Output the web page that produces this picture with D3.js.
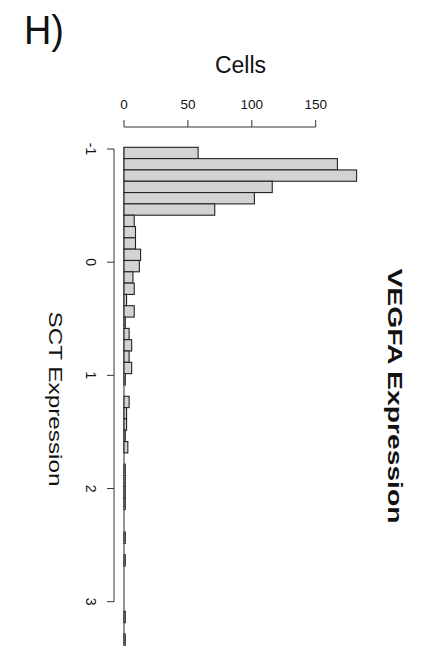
<!DOCTYPE html>
<html>
<head>
<meta charset="utf-8">
<script src="https://cdn.jsdelivr.net/npm/d3@7"></script>
<style>
  body { margin: 0; background: #fff; }
  text { font-family: "Liberation Sans", Arial, sans-serif; fill: #111; }
</style>
</head>
<body>
<svg width="435" height="647"></svg>
<script>
// histogram of SCT expression, 0.1 wide bins
var binStart = -1.015;
var binWidth = 0.1;
var counts = [58, 167, 182, 116, 102, 71, 8, 9, 9, 13, 12, 7, 8, 2, 8, 1, 4, 6, 4, 6,
  1, 0, 4, 2, 2, 1, 3, 0, 1, 1, 1, 1, 0, 0, 1, 0, 1, 0, 0, 0, 0, 1, 0, 1];
var cellTicks = [0, 50, 100, 150];
var exprTicks = [-1, 0, 1, 2, 3];

var svg = d3.select("svg");

var x = d3.scaleLinear().domain([0, 150]).range([124, 315.7]);
var y = d3.scaleLinear().domain([-1, 3]).range([149, 601.7]);

var bins = counts.map(function(c, i) {
  return { x0: binStart + i * binWidth, x1: binStart + (i + 1) * binWidth, n: c };
});

// empty bins still leave a line on the baseline
svg.append("line")
  .attr("x1", x(0)).attr("x2", x(0))
  .attr("y1", y(bins[0].x0)).attr("y2", y(bins[bins.length - 1].x1))
  .attr("stroke", "#2a2a2a");

svg.append("g")
  .selectAll("rect")
  .data(bins)
  .enter().append("rect")
  .attr("x", x(0))
  .attr("y", function(d) { return y(d.x0); })
  .attr("width", function(d) { return x(d.n) - x(0); })
  .attr("height", function(d) { return y(d.x1) - y(d.x0); })
  .attr("fill", "#d3d3d3")
  .attr("stroke", "#222")
  .attr("stroke-width", 1.1);

// top axis (Cells)
var topAxis = svg.append("g").attr("transform", "translate(0,127)");
topAxis.append("line")
  .attr("x1", x(0)).attr("x2", x(150))
  .attr("stroke", "#333");
topAxis.selectAll(".tk").data(cellTicks).enter().append("line")
  .attr("x1", function(d) { return x(d); }).attr("x2", function(d) { return x(d); })
  .attr("y1", 0).attr("y2", -7)
  .attr("stroke", "#333");
topAxis.selectAll(".lb").data(cellTicks).enter().append("text")
  .attr("x", function(d) { return x(d); })
  .attr("y", -18)
  .attr("text-anchor", "middle")
  .style("font-size", "13.5px")
  .text(function(d) { return d; });

// left axis (expression)
var leftAxis = svg.append("g").attr("transform", "translate(114,0)");
leftAxis.append("line")
  .attr("y1", y(-1)).attr("y2", y(3))
  .attr("stroke", "#333");
leftAxis.selectAll(".tk").data(exprTicks).enter().append("line")
  .attr("y1", function(d) { return y(d); }).attr("y2", function(d) { return y(d); })
  .attr("x1", 0).attr("x2", -7)
  .attr("stroke", "#333");
leftAxis.selectAll(".lb").data(exprTicks).enter().append("text")
  .attr("transform", function(d) { return "translate(-28," + y(d) + ") rotate(90)"; })
  .attr("text-anchor", "middle")
  .style("font-size", "14px")
  .text(function(d) { return d; });

// labels
svg.append("text")
  .attr("x", 24).attr("y", 44)
  .attr("textLength", 40)
  .attr("lengthAdjust", "spacingAndGlyphs")
  .style("font-size", "40px")
  .text("H)");

svg.append("text")
  .attr("x", 240.5).attr("y", 73)
  .attr("text-anchor", "middle")
  .style("font-size", "23px")
  .text("Cells");

svg.append("text")
  .attr("transform", "translate(49,399) rotate(90)")
  .attr("text-anchor", "middle")
  .attr("textLength", 175)
  .attr("lengthAdjust", "spacingAndGlyphs")
  .style("font-size", "19px")
  .text("SCT Expression");

svg.append("text")
  .attr("transform", "translate(387.5,396) rotate(90)")
  .attr("text-anchor", "middle")
  .attr("textLength", 255)
  .attr("lengthAdjust", "spacingAndGlyphs")
  .style("font-size", "20px")
  .style("font-weight", "bold")
  .text("VEGFA Expression");
</script>
</body>
</html>
